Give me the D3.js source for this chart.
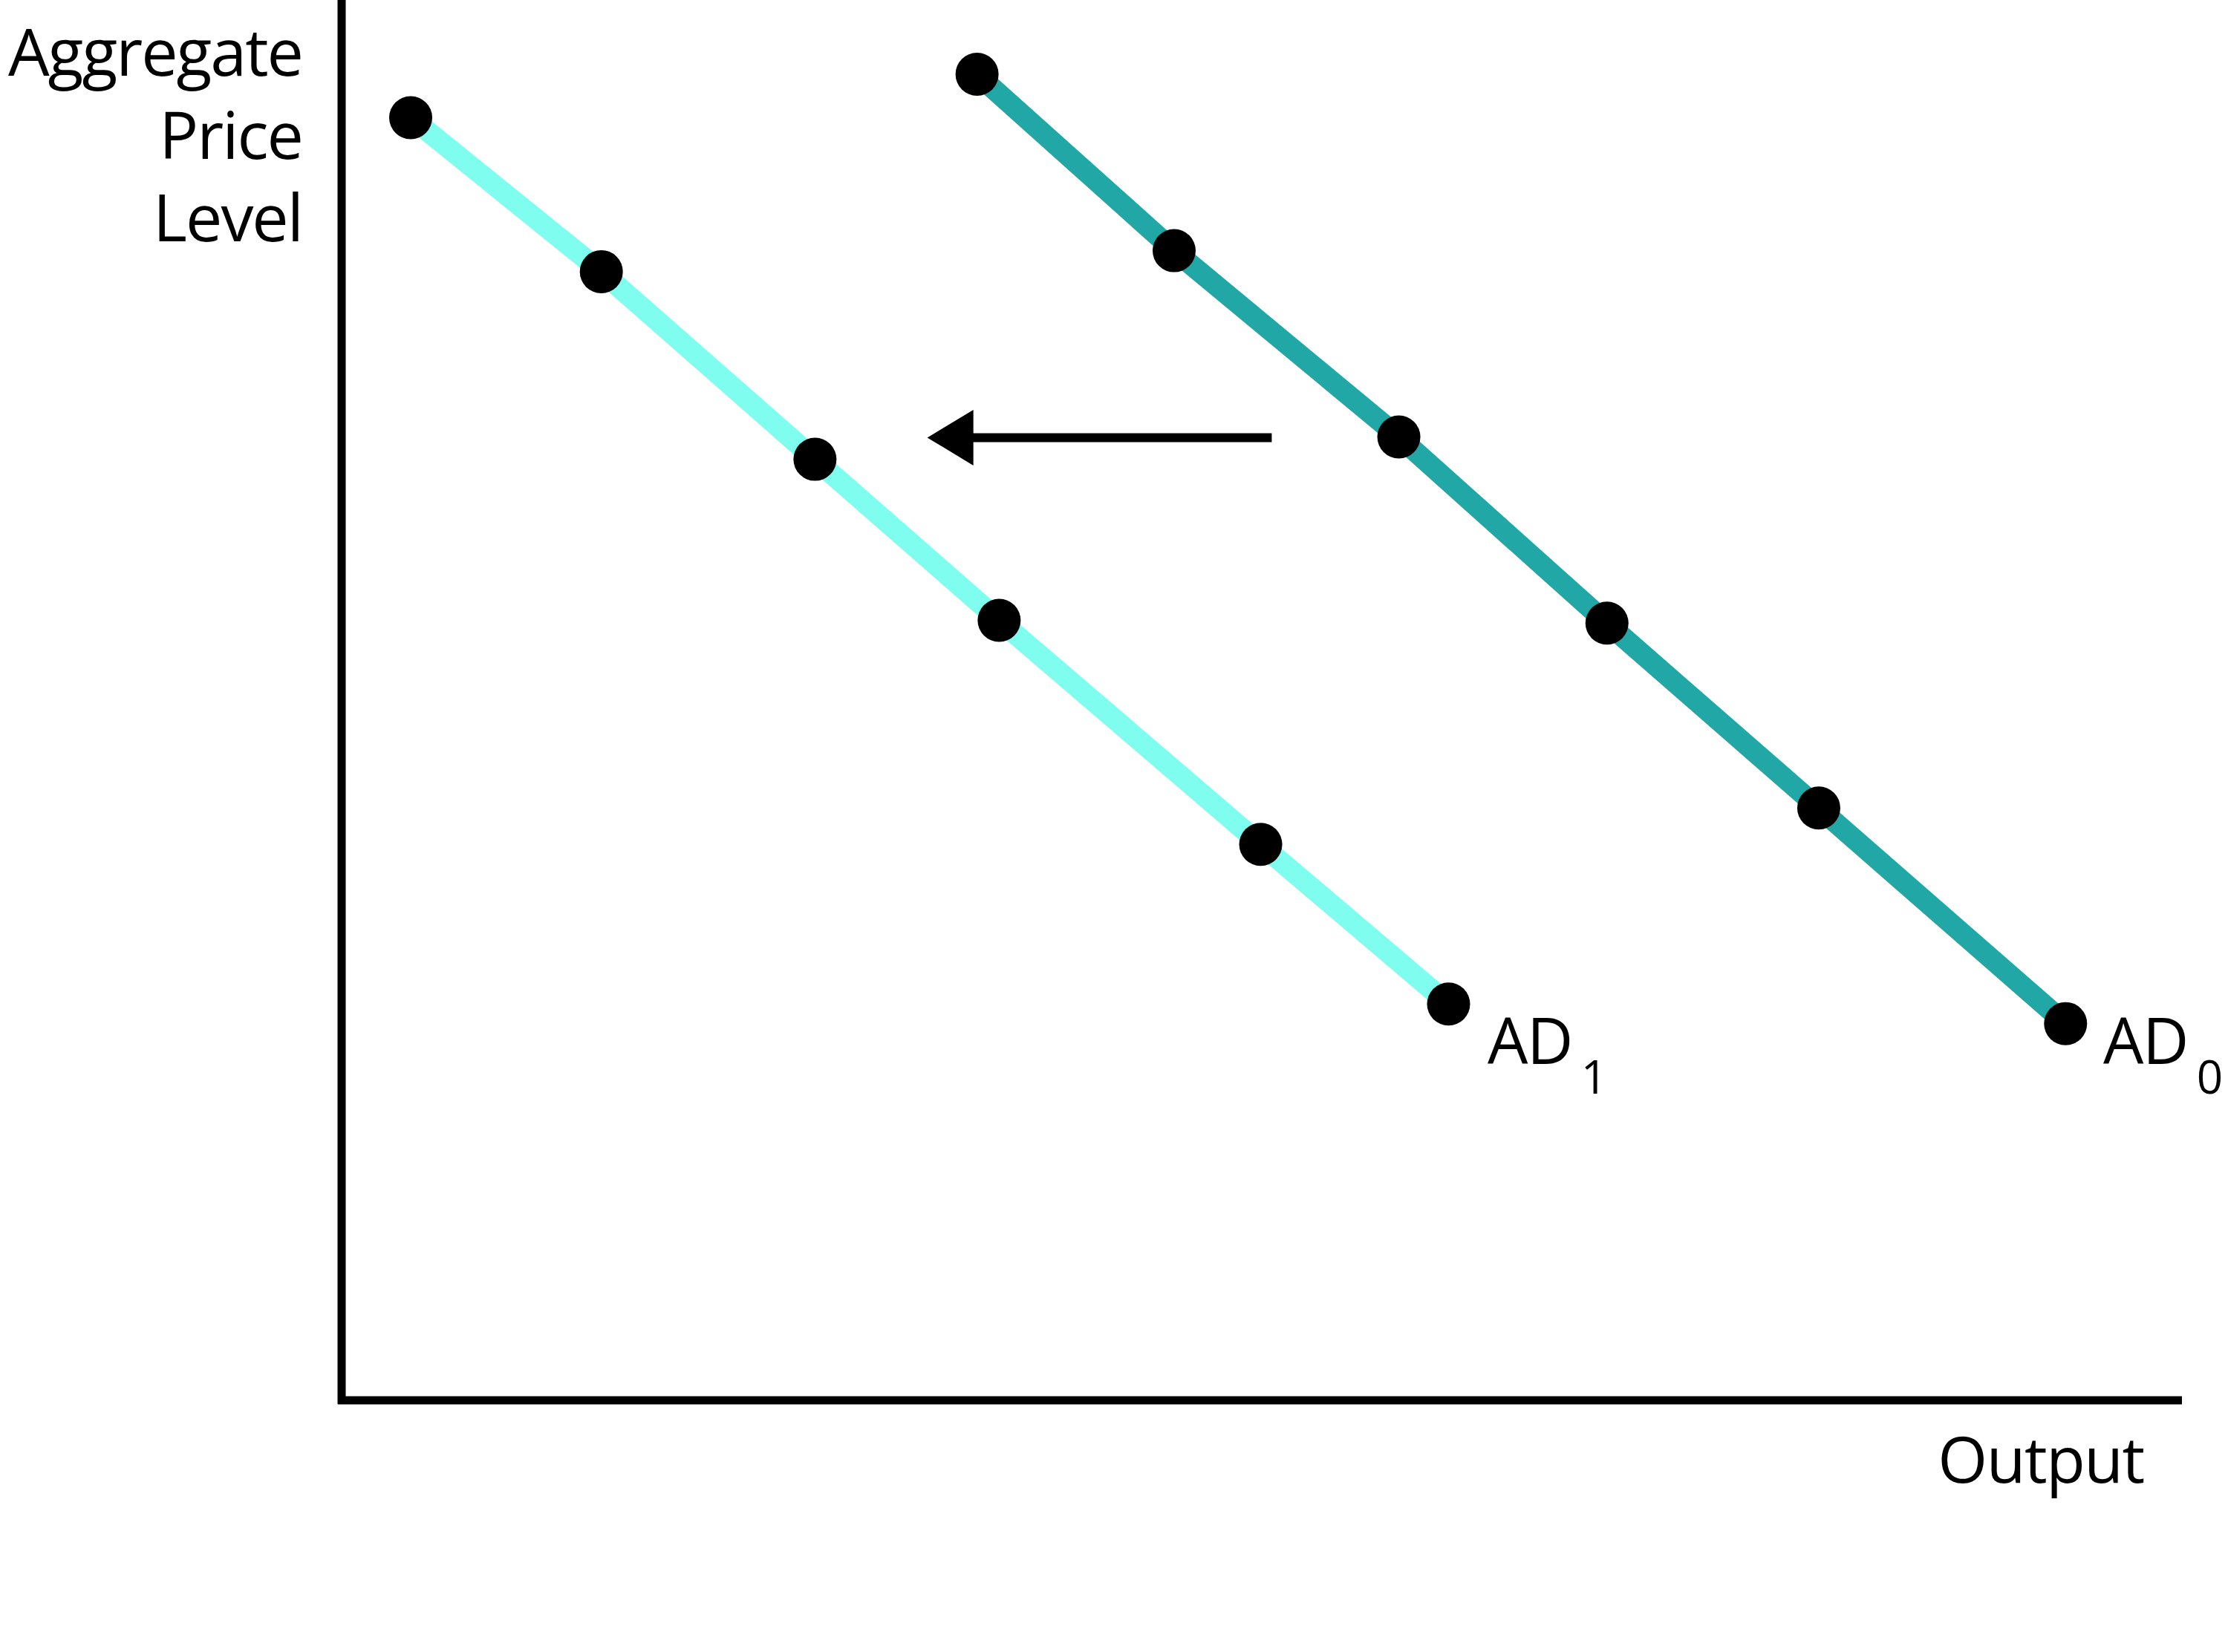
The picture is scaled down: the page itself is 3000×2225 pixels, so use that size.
<!DOCTYPE html>
<html>
<head>
<meta charset="utf-8">
<script src="https://cdn.jsdelivr.net/npm/d3@7"></script>
<style>
  html, body { margin: 0; padding: 0; background: #ffffff; }
  svg { display: block; }
  text { font-family: "Open Sans", "Noto Sans", sans-serif; fill: #000; }
</style>
</head>
<body>
<script>
// ---- data (in chart units, 0..100 on both axes) ----
const seriesNames = ["AD0", "AD1"];
const ad0X = [34.5, 45.2, 57.4, 68.7, 80.2, 93.6];
const ad0Y = [94.7, 82.1, 68.8, 55.5, 42.3, 26.9];
const ad1X = [3.75, 14.1, 25.7, 35.7, 49.9, 60.1];
const ad1Y = [91.6, 80.6, 67.2, 55.7, 39.7, 28.3];
const shiftArrowX = [50.5, 31.8];   // tail -> tip
const shiftArrowY = [68.75, 68.75];
const yAxisLabel = ["Aggregate", "Price", "Level"];
const xAxisLabel = "Output";

// ---- layout ----
const W = 3000, H = 2225;
const x = d3.scaleLinear().domain([0, 100]).range([460, 2940]);
const y = d3.scaleLinear().domain([0, 100]).range([1886, 0]);

const svg = d3.select("body").append("svg")
  .attr("width", W).attr("height", H)
  .attr("viewBox", `0 0 ${W} ${H}`);

svg.append("rect").attr("width", W).attr("height", H).attr("fill", "#fff");

// axes (no ticks)
const gx = svg.append("g").attr("transform", `translate(0,${y(0)})`)
  .call(d3.axisBottom(x).tickValues([]).tickSizeOuter(0));
gx.select(".domain").attr("stroke", "#000").attr("stroke-width", 11)
  .attr("d", `M${x(0) - 5},0H${x(100) - 2}`);

const gy = svg.append("g").attr("transform", `translate(${x(0)},0)`)
  .call(d3.axisLeft(y).tickValues([]).tickSizeOuter(0));
gy.select(".domain").attr("stroke", "#000").attr("stroke-width", 11)
  .attr("d", `M0,${y(0) + 5}V${y(100)}`);

// curves
const line = d3.line().x(d => x(d[0])).y(d => y(d[1]));
const ad0 = ad0X.map((v, i) => [v, ad0Y[i]]);
const ad1 = ad1X.map((v, i) => [v, ad1Y[i]]);

const series = [
  { name: seriesNames[1], pts: ad1, color: "#7ffdee" },
  { name: seriesNames[0], pts: ad0, color: "#20a7a6" }
];

series.forEach(s => {
  svg.append("path").datum(s.pts)
    .attr("d", line)
    .attr("fill", "none")
    .attr("stroke", s.color)
    .attr("stroke-width", 28);
});
series.forEach(s => {
  svg.append("g").selectAll("circle").data(s.pts).join("circle")
    .attr("cx", d => x(d[0]))
    .attr("cy", d => y(d[1]))
    .attr("r", 29)
    .attr("fill", "#000");
});

// shift arrow
const tailX = x(shiftArrowX[0]), tipX = x(shiftArrowX[1]);
const ay = y(shiftArrowY[0]);
const headLen = 62, headHalf = 37.5;
svg.append("line")
  .attr("x1", tailX).attr("y1", ay)
  .attr("x2", tipX + headLen - 2).attr("y2", ay)
  .attr("stroke", "#000").attr("stroke-width", 12);
svg.append("path")
  .attr("d", `M${tipX},${ay}L${tipX + headLen},${ay - headHalf}L${tipX + headLen},${ay + headHalf}Z`)
  .attr("fill", "#000");

// y axis title (right aligned, three lines)
const yl = svg.append("text").attr("text-anchor", "end").attr("font-size", 88)
  .attr("letter-spacing", -2);
yAxisLabel.forEach((t, i) => {
  yl.append("tspan").attr("x", 407).attr("y", 102 + i * 111.5).text(t);
});

// x axis title
svg.append("text").attr("x", 2748).attr("y", 1997)
  .attr("text-anchor", "middle").attr("font-size", 86)
  .attr("letter-spacing", -1.5)
  .text(xAxisLabel);

// curve labels
function curveLabel(px, py, sub) {
  const t = svg.append("text").attr("x", px).attr("y", py).attr("font-size", 86)
    .attr("letter-spacing", -1.5);
  t.append("tspan").text("AD");
  t.append("tspan").attr("dx", 12).attr("dy", 40).attr("font-size", 62).text(sub);
}
curveLabel(2003, 1433, "1");
curveLabel(2832, 1433, "0");
</script>
</body>
</html>
